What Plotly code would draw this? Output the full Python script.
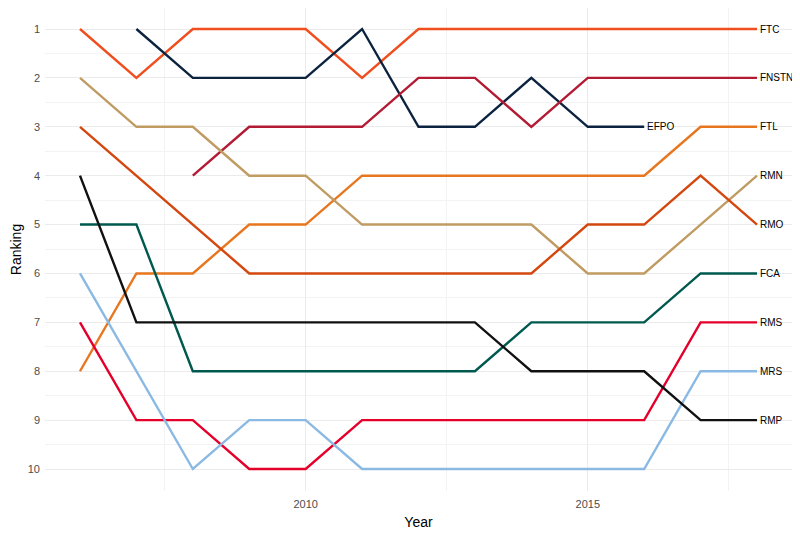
import plotly.graph_objects as go

series_names = ["FTC", "EFPO", "FNSTN", "FTL", "RMN", "RMO", "FCA", "RMS", "MRS", "RMP"]
series_years = {
    "FTC": list(range(2006, 2019)),
    "EFPO": list(range(2007, 2017)),
    "FNSTN": list(range(2008, 2019)),
    "FTL": list(range(2006, 2019)),
    "RMN": list(range(2006, 2019)),
    "RMO": list(range(2006, 2019)),
    "FCA": list(range(2006, 2019)),
    "RMS": list(range(2006, 2019)),
    "MRS": list(range(2006, 2019)),
    "RMP": list(range(2006, 2019)),
}
ftc = [1, 2, 1, 1, 1, 2, 1, 1, 1, 1, 1, 1, 1]
efpo = [1, 2, 2, 2, 1, 3, 3, 2, 3, 3]
fnstn = [4, 3, 3, 3, 2, 2, 3, 2, 2, 2, 2]
ftl = [8, 6, 6, 5, 5, 4, 4, 4, 4, 4, 4, 3, 3]
rmn = [2, 3, 3, 4, 4, 5, 5, 5, 5, 6, 6, 5, 4]
rmo = [3, 4, 5, 6, 6, 6, 6, 6, 6, 5, 5, 4, 5]
fca = [5, 5, 8, 8, 8, 8, 8, 8, 7, 7, 7, 6, 6]
rms = [7, 9, 9, 10, 10, 9, 9, 9, 9, 9, 9, 7, 7]
mrs = [6, 8, 10, 9, 9, 10, 10, 10, 10, 10, 10, 8, 8]
rmp = [4, 7, 7, 7, 7, 7, 7, 7, 8, 8, 8, 9, 9]

series_values = {
    "FTC": ftc, "EFPO": efpo, "FNSTN": fnstn, "FTL": ftl, "RMN": rmn,
    "RMO": rmo, "FCA": fca, "RMS": rms, "MRS": mrs, "RMP": rmp,
}
colors = {
    "FTC": "#F04E1E", "EFPO": "#0C2340", "FNSTN": "#B31B34", "FTL": "#E8761E",
    "RMN": "#C09C63", "RMO": "#D4470F", "FCA": "#00594F", "RMS": "#E4002B",
    "MRS": "#8AB9E3", "RMP": "#111111",
}

fig = go.Figure()
annotations = []
for name in series_names:
    xs = series_years[name]
    ys = series_values[name]
    fig.add_trace(go.Scatter(x=xs, y=ys, mode="lines", name=name,
                             line=dict(color=colors[name], width=2.4),
                             showlegend=False))
    annotations.append(dict(x=xs[-1], y=ys[-1], text=name, showarrow=False,
                            xanchor="left", yanchor="middle", xshift=1,
                            font=dict(family="Liberation Sans, Arial", size=10, color="#000000")))

fig.update_layout(
    width=792, height=528,
    margin=dict(l=37, r=8, t=0, b=45, autoexpand=False),
    paper_bgcolor="white", plot_bgcolor="white",
    annotations=annotations,
    font=dict(family="Liberation Sans, Arial", size=11, color="#4d4d4d"),
)
fig.update_xaxes(
    range=[2005.38, 2018.62], tick0=2010, dtick=5, showgrid=True, automargin=False,
    gridcolor="#ebebeb", gridwidth=1, zeroline=False, showline=False, ticks="",
    minor=dict(tick0=2010, dtick=2.5, showgrid=True, gridcolor="#f3f3f3", gridwidth=1),
    title=dict(text="Year", font=dict(size=14, color="#000000"), standoff=8),
    tickfont=dict(size=11, color="#4d4d4d"), ticklabelstandoff=5,
)
fig.update_yaxes(
    range=[10.45, 0.57], tick0=1, dtick=1, showgrid=True, automargin=False,
    gridcolor="#ebebeb", gridwidth=1, zeroline=False, showline=False, ticks="",
    minor=dict(tick0=0.5, dtick=0.5, showgrid=True, gridcolor="#f3f3f3", gridwidth=1),
    title=dict(text="Ranking", font=dict(size=14, color="#000000"), standoff=8),
    tickfont=dict(size=11, color="#4d4d4d"), ticklabelstandoff=4,
)

fig.write_html("out.html")
